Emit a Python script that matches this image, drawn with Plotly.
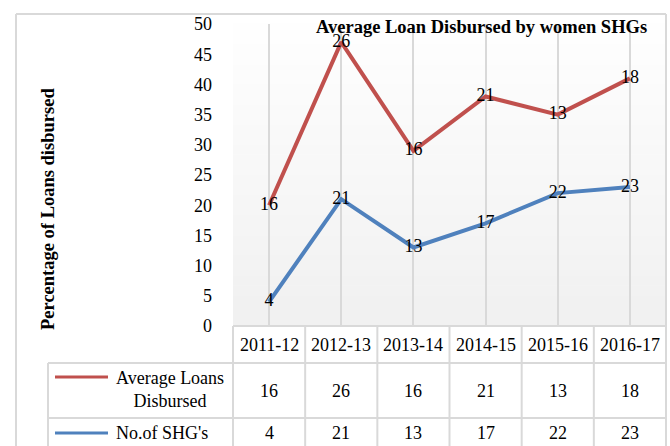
import plotly.graph_objects as go

years = ["2011-12", "2012-13", "2013-14", "2014-15", "2015-16", "2016-17"]
avg_loans = [16, 26, 16, 21, 13, 18]
no_shgs = [4, 21, 13, 17, 22, 23]
y_ticks = [0, 5, 10, 15, 20, 25, 30, 35, 40, 45, 50]
series_names = ["Average Loans<br>Disbursed", "No.of SHG's"]

RED = "#c0504d"
BLUE = "#4f81bd"
GRID = "#d9d9d9"
FONT = "Liberation Serif"

W, H = 670, 446
L, R, T, B = 233, 4, 24, 120
PW, PH = W - L - R, H - T - B


def px(x):
    return (x - L) / PW


def py(y):
    return (H - B - y) / PH


# stacked line: red series drawn on top of blue
stacked_red = [a + b for a, b in zip(avg_loans, no_shgs)]

fig = go.Figure()
fig.add_trace(go.Scatter(
    x=years, y=no_shgs, mode="lines+text", text=[str(v) for v in no_shgs],
    textposition="middle center", line=dict(color=BLUE, width=4),
    textfont=dict(family=FONT, size=18, color="#000"), cliponaxis=False,
    showlegend=False))
fig.add_trace(go.Scatter(
    x=years, y=stacked_red, mode="lines+text", text=[str(v) for v in avg_loans],
    textposition="middle center", line=dict(color=RED, width=4),
    textfont=dict(family=FONT, size=18, color="#000"), cliponaxis=False,
    showlegend=False))

shapes = []
# gradient plot background
n = 30
for i in range(n):
    t = i / n
    g = int(255 - (255 - 241) * (1 - t))
    shapes.append(dict(type="rect", xref="paper", yref="paper", x0=0, x1=1,
                       y0=t, y1=t + 1 / n + 0.002, line=dict(width=0),
                       fillcolor=f"rgb({g},{g},{g})", layer="below"))

line = dict(color=GRID, width=2)
# outer chart border
shapes.append(dict(type="line", xref="paper", yref="paper", x0=px(16), x1=px(16), y0=py(14), y1=py(460), line=line))
shapes.append(dict(type="line", xref="paper", yref="paper", x0=px(16), x1=px(666), y0=py(14), y1=py(14), line=line))
shapes.append(dict(type="line", xref="paper", yref="paper", x0=px(666), x1=px(666), y0=py(14), y1=py(460), line=line))
# table horizontal lines
shapes.append(dict(type="line", xref="paper", yref="paper", x0=0, x1=1, y0=py(326), y1=py(326), line=line))
shapes.append(dict(type="line", xref="paper", yref="paper", x0=px(48), x1=1, y0=py(363), y1=py(363), line=line))
shapes.append(dict(type="line", xref="paper", yref="paper", x0=px(48), x1=1, y0=py(418), y1=py(418), line=line))
# table vertical lines
shapes.append(dict(type="line", xref="paper", yref="paper", x0=px(48), x1=px(48), y0=py(363), y1=py(460), line=line))
for k in range(len(years) + 1):
    xv = k / len(years)
    shapes.append(dict(type="line", xref="paper", yref="paper", x0=xv, x1=xv, y0=py(326), y1=py(460), line=line))
# legend keys
shapes.append(dict(type="line", xref="paper", yref="paper", x0=px(55), x1=px(108), y0=py(377), y1=py(377), line=dict(color=RED, width=3)))
shapes.append(dict(type="line", xref="paper", yref="paper", x0=px(55), x1=px(108), y0=py(433), y1=py(433), line=dict(color=BLUE, width=3)))

ann = []
ann.append(dict(text="<b>Average Loan Disbursed by women SHGs</b>", xref="paper", yref="paper",
                x=px(481), y=py(27), showarrow=False, xanchor="center", yanchor="middle",
                font=dict(family=FONT, size=18.5, color="#000")))
ann.append(dict(text="<b>Percentage of Loans disbursed</b>", xref="paper", yref="paper",
                x=px(48), y=py(209), textangle=-90, showarrow=False, xanchor="center", yanchor="middle",
                font=dict(family=FONT, size=18.5, color="#000")))
for yr in years:
    ann.append(dict(text=yr, xref="x", yref="paper", x=yr, y=py(345), showarrow=False,
                    xanchor="center", yanchor="middle", font=dict(family=FONT, size=18, color="#000")))
for yr, v in zip(years, avg_loans):
    ann.append(dict(text=str(v), xref="x", yref="paper", x=yr, y=py(391), showarrow=False,
                    xanchor="center", yanchor="middle", font=dict(family=FONT, size=18, color="#000")))
for yr, v in zip(years, no_shgs):
    ann.append(dict(text=str(v), xref="x", yref="paper", x=yr, y=py(433), showarrow=False,
                    xanchor="center", yanchor="middle", font=dict(family=FONT, size=18, color="#000")))
ann.append(dict(text=series_names[0], xref="paper", yref="paper", x=px(170), y=py(389), showarrow=False,
                xanchor="center", yanchor="middle", align="center",
                font=dict(family=FONT, size=18, color="#000")))
ann.append(dict(text=series_names[1], xref="paper", yref="paper", x=px(114), y=py(433), showarrow=False,
                xanchor="left", yanchor="middle", font=dict(family=FONT, size=18, color="#000")))

fig.update_layout(
    width=W, height=H, margin=dict(l=L, r=R, t=T, b=B, autoexpand=False),
    paper_bgcolor="white", plot_bgcolor="rgba(0,0,0,0)",
    shapes=shapes, annotations=ann, showlegend=False,
    xaxis=dict(type="category", range=[-0.5, 5.5], showticklabels=False, showgrid=True,
               gridcolor=GRID, gridwidth=2, zeroline=False, showline=False, ticks=""),
    yaxis=dict(range=[0, 50], tickvals=y_ticks, showgrid=False, zeroline=False, showline=False,
               ticks="", ticklabelstandoff=20,
               tickfont=dict(family=FONT, size=18, color="#000")),
)

fig.write_html("out.html")
